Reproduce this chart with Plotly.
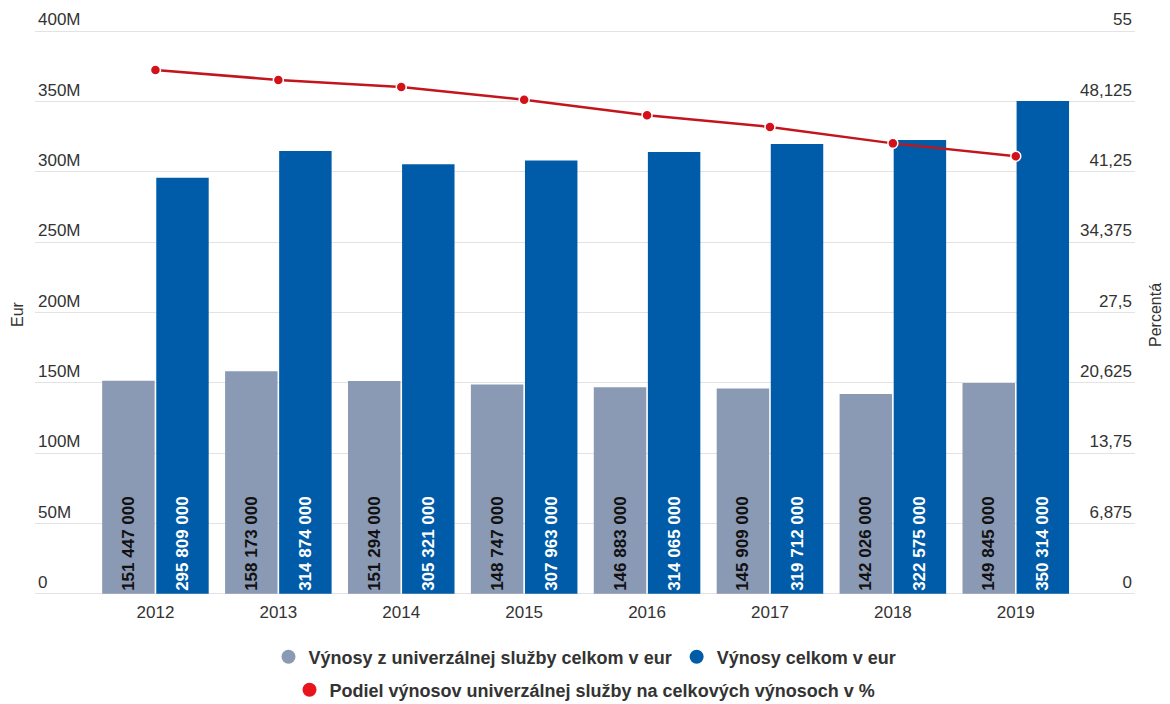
import plotly.graph_objects as go

years = ["2012", "2013", "2014", "2015", "2016", "2017", "2018", "2019"]
universal = [151447000, 158173000, 151294000, 148747000, 146883000, 145909000, 142026000, 149845000]
total = [295809000, 314874000, 305321000, 307963000, 314065000, 319712000, 322575000, 350314000]
share = [51.20, 50.23, 49.55, 48.30, 46.77, 45.64, 44.03, 42.77]

left_tickvals = [0, 50e6, 100e6, 150e6, 200e6, 250e6, 300e6, 350e6, 400e6]
left_ticktext = ["0", "50M", "100M", "150M", "200M", "250M", "300M", "350M", "400M"]
right_tickvals = [0, 6.875, 13.75, 20.625, 27.5, 34.375, 41.25, 48.125, 55]
right_ticktext = ["0", "6,875", "13,75", "20,625", "27,5", "34,375", "41,25", "48,125", "55"]

name_uni = "Výnosy z univerzálnej služby celkom v eur"
name_tot = "Výnosy celkom v eur"
name_share = "Podiel výnosov univerzálnej služby na celkových výnosoch v %"

GREY = "#8A99B4"
BLUE = "#005CA9"
RED_LINE = "#C2151C"
RED_MARK = "#D3111A"
FONT = "Liberation Sans, Arial, sans-serif"
TXT = "#333333"

def fmt(v):
    return f"{v:,}".replace(",", " ")

xs = list(range(len(years)))

fig = go.Figure()
fig.add_trace(go.Bar(
    x=xs, y=universal, name=name_uni, marker=dict(color=GREY, line=dict(width=0)),
    text=[fmt(v) for v in universal], textposition="inside", insidetextanchor="start",
    textangle=-90, textfont=dict(color="#111111", size=17, family=FONT, weight="bold"),
    showlegend=False,
))
fig.add_trace(go.Bar(
    x=xs, y=total, name=name_tot, marker=dict(color=BLUE, line=dict(width=0)),
    text=[fmt(v) for v in total], textposition="inside", insidetextanchor="start",
    textangle=-90, textfont=dict(color="#ffffff", size=17, family=FONT, weight="bold"),
    showlegend=False,
))
fig.add_trace(go.Scatter(
    x=xs, y=share, name=name_share, yaxis="y2", mode="lines+markers",
    line=dict(color=RED_LINE, width=2.5),
    marker=dict(color=RED_MARK, size=10, line=dict(color="white", width=1.5)),
    showlegend=False,
))

# legend entries (circle symbols)
fig.add_trace(go.Scatter(x=[None], y=[None], mode="markers", name=name_uni,
                         marker=dict(color=GREY, size=14), legend="legend"))
fig.add_trace(go.Scatter(x=[None], y=[None], mode="markers", name=name_tot,
                         marker=dict(color=BLUE, size=14), legend="legend"))
fig.add_trace(go.Scatter(x=[None], y=[None], mode="markers", name=name_share,
                         marker=dict(color="#E8141C", size=14), legend="legend2"))

ext = 0.8e6
ext2 = 55 * ext / 400e6

fig.update_layout(
    width=1170, height=704,
    margin=dict(l=35, r=35, t=30, b=109, autoexpand=False),
    paper_bgcolor="white", plot_bgcolor="white",
    font=dict(family=FONT, size=17, color=TXT),
    barmode="group", bargap=0.12, bargroupgap=0.03,
    xaxis=dict(
        range=[-0.98, 7.97], tickvals=xs, ticktext=years, showgrid=False,
        zeroline=False, showline=False, ticks="outside", ticklen=2,
        tickcolor="rgba(0,0,0,0)", tickfont=dict(size=17, color=TXT),
    ),
    yaxis=dict(
        range=[-ext, 400e6 + ext], tickvals=left_tickvals, ticktext=left_ticktext,
        ticklabelposition="inside top", ticklabeloverflow="allow",
        showgrid=True, gridcolor="#E3E3E3", gridwidth=1,
        zeroline=False, showline=False, tickfont=dict(size=17, color=TXT),
    ),
    yaxis2=dict(
        range=[-ext2, 55 + ext2], tickvals=right_tickvals, ticktext=right_ticktext,
        overlaying="y", side="right", ticklabelposition="inside top",
        ticklabeloverflow="allow", showgrid=False,
        zeroline=False, showline=False, tickfont=dict(size=17, color=TXT),
    ),
    legend=dict(orientation="h", x=0.5, xanchor="center", y=1 - 657 / 704, yanchor="middle",
                yref="container", xref="container",
                font=dict(size=18, color=TXT, weight="bold"),
                itemwidth=30, tracegroupgap=0),
    legend2=dict(orientation="h", x=0.5, xanchor="center", y=1 - 690 / 704, yanchor="middle",
                 yref="container", xref="container",
                 font=dict(size=18, color=TXT, weight="bold"),
                 itemwidth=30),
    annotations=[
        dict(text="Eur", xref="paper", yref="paper", x=(17 - 35) / 1100, y=(594 - 314) / 563,
             showarrow=False, textangle=-90, font=dict(size=16, color=TXT),
             xanchor="center", yanchor="middle"),
        dict(text="Percentá", xref="paper", yref="paper", x=(1155 - 35) / 1100, y=(594 - 315) / 563,
             showarrow=False, textangle=-90, font=dict(size=16, color=TXT),
             xanchor="center", yanchor="middle"),
    ],
)

fig.write_html("out.html")
